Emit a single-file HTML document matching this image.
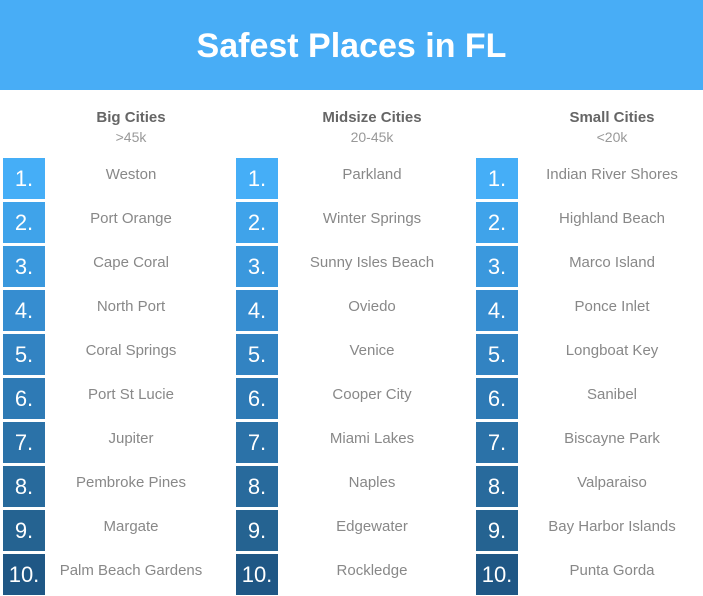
<!DOCTYPE html>
<html><head><meta charset="utf-8"><style>
body{margin:0;width:703px;height:590px;overflow:hidden;background:#fff;font-family:"Liberation Sans",sans-serif;position:relative}
.title{position:absolute;left:0;top:0;width:703px;height:90px;background:#48adf6;color:#fff;font-weight:bold;font-size:34px;text-align:center;line-height:92px}
.h{position:absolute;width:200px;text-align:center;color:#666;font-weight:bold;font-size:15px;top:109px}
.s{position:absolute;width:200px;text-align:center;color:#999;font-size:14px;top:129px}
.box{position:absolute;width:42px;height:41px;color:#fff;font-size:22px;text-align:center;line-height:42px}
.nm{position:absolute;width:200px;text-align:center;color:#888;font-size:15px}
</style></head><body>
<div class="title">Safest Places in FL</div>
<div id="root"></div>
<script>
const groups=["Big Cities","Midsize Cities","Small Cities"];
const subs=[">45k","20-45k","<20k"];
const cities=[
["Weston","Port Orange","Cape Coral","North Port","Coral Springs","Port St Lucie","Jupiter","Pembroke Pines","Margate","Palm Beach Gardens"],
["Parkland","Winter Springs","Sunny Isles Beach","Oviedo","Venice","Cooper City","Miami Lakes","Naples","Edgewater","Rockledge"],
["Indian River Shores","Highland Beach","Marco Island","Ponce Inlet","Longboat Key","Sanibel","Biscayne Park","Valparaiso","Bay Harbor Islands","Punta Gorda"]];
const colors=["#45aef7","#3fa3ea","#3a98dd","#368dd0","#3283c2","#2e7ab5","#2b72a8","#286a9c","#256391","#1f5785"];
const boxX=[3,236,476], centers=[131,372,612];
const root=document.body;
groups.forEach((g,c)=>{
 const h=document.createElement('div');h.className='h';h.textContent=g;h.style.left=(centers[c]-100)+'px';
 
 root.appendChild(h);
 const s=document.createElement('div');s.className='s';s.textContent=subs[c];s.style.left=(centers[c]-100)+'px';
 
 root.appendChild(s);
 cities[c].forEach((n,i)=>{
  const y=158+i*44;
  const b=document.createElement('div');b.className='box';b.textContent=(i+1)+'.';
  b.style.left=boxX[c]+'px';b.style.top=y+'px';b.style.background=colors[i];
  
  root.appendChild(b);
  const t=document.createElement('div');t.className='nm';t.textContent=n;
  t.style.left=(centers[c]-100)+'px';t.style.top=(y+8)+'px';
  
  root.appendChild(t);
 });
});
</script>
</body></html>
